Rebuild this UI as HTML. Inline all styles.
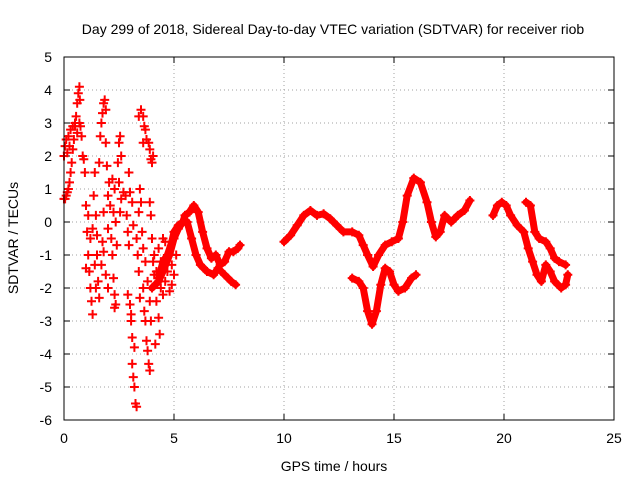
<!DOCTYPE html>
<html><head><meta charset="utf-8"><style>
body{margin:0;background:#fff}
svg{display:block;font-family:"Liberation Sans",sans-serif;font-size:13px}
</style></head><body>
<svg id="chart" width="640" height="480" viewBox="0 0 640 480">
<text x="333" y="34" text-anchor="middle" font-size="14">Day 299 of 2018, Sidereal Day-to-day VTEC variation (SDTVAR) for receiver riob</text>
<text x="334" y="471" text-anchor="middle" font-size="14">GPS time / hours</text>
<text transform="translate(18,238) rotate(-90)" text-anchor="middle" font-size="14">SDTVAR / TECUs</text>
<g id="grid"></g>
<g id="ticks"></g>
<g id="series"></g>
<rect x="64" y="57" width="550" height="363" fill="none" stroke="#000" stroke-width="1"/>
</svg>
<script>
const xTicks=[0,5,10,15,20,25];
const yTicks=[5,4,3,2,1,0,-1,-2,-3,-4,-5,-6];
const scatter=[[0,0.7],[0.05,0.7],[0.1,0.8],[0.15,0.9],[0.2,1.0],[0.25,1.2],[0.3,1.5],[0.35,1.8],[0.4,2.2],[0.45,2.5],[0.5,2.9],[0.55,3.2],[0.6,3.6],[0.65,3.9],[0.7,4.1],[0.72,3.7],
[0,2.0],[0.05,2.3],[0.1,2.5],[0.15,2.1],[0.2,2.6],[0.25,2.3],[0.3,2.8],[0.4,2.9],[0.5,3.0],[0.6,2.7],[0.7,3.0],[0.75,2.9],[0.8,2.6],[0.85,2.0],
[0.9,1.9],[0.95,1.5],[1.0,0.5],[1.05,-0.3],[1.1,-1.0],[1.15,-1.5],[1.2,-2.0],[1.25,-2.4],[1.3,-2.8],[1.0,-1.4],[1.1,0.2],[1.2,-0.5],[1.3,-0.2],[1.35,0.8],[1.4,1.5],[1.45,0.2],[1.5,-1.0],[1.5,-0.4],[1.55,-1.8],[1.6,-2.3],
[1.4,-1.3],[1.45,-2.0],[1.6,1.8],[1.65,2.6],[1.7,3.0],[1.75,3.3],[1.8,3.6],[1.85,3.7],[1.9,3.4],[1.9,2.4],[1.95,1.7],[2.0,0.8],[2.0,-0.2],[1.8,0.3],[1.75,-0.6],[1.7,-1.3],[1.8,-0.9],[1.9,-1.6],[2.0,-2.0],
[2.05,1.2],[2.1,0.5],[2.15,-0.5],[2.2,-1.0],[2.25,-1.7],[2.3,-2.2],[2.35,-2.5],[2.3,-2.6],[2.2,1.3],[2.25,0.3],[2.3,1.0],[2.35,0.0],[2.4,-0.7],[2.45,1.8],[2.5,1.2],[2.55,0.3],
[2.5,2.4],[2.55,2.6],[2.6,2.0],[2.6,0.7],[2.7,0.9],[2.8,0.8],[2.85,0.2],[2.9,-0.3],[2.95,-0.7],[2.95,1.5],[3.0,0.9],[3.1,0.6],[3.15,-0.1],
[2.9,-2.2],[3.0,-2.5],[3.05,-3.0],[3.1,-3.5],[3.1,-4.3],[3.15,-4.7],[3.2,-5.0],[3.25,-5.5],[3.3,-5.6],[3.2,-3.8],[3.05,-2.8],
[3.3,-0.5],[3.35,-1.0],[3.4,-1.5],[3.45,-2.3],[3.4,0.3],[3.45,1.0],[3.5,0.6],[3.55,-0.3],[3.6,-0.8],[3.6,-2.0],[3.65,-2.7],[3.7,-3.0],[3.75,-3.6],[3.8,-3.9],[3.85,-4.3],[3.9,-4.5],[3.7,-1.2],[3.8,-1.8],[3.9,-2.4],[3.95,-3.0],
[3.4,3.2],[3.5,3.4],[3.6,3.2],[3.7,2.8],[3.75,2.5],[3.6,2.4],[3.65,2.9],[3.85,2.4],[3.9,2.2],[3.95,1.9],[4.0,1.8],[4.05,2.0],
[3.9,0.6],[3.95,0.2],[4.0,-0.5],[4.05,-1.2],[4.1,-1.6],[4.2,-2.4],[4.3,-2.9],[4.35,-3.4],[4.15,-3.7],
[4.1,-1.0],[4.2,-1.5],[4.3,-0.8],[4.4,-1.2],[4.4,-2.0],[4.5,-2.2],[4.6,-1.8],[4.6,-0.6],[4.7,-1.5],[4.8,-2.1],[4.9,-1.3],[4.9,-1.9],[5.0,-1.6],[5.1,-1.0],[4.5,-0.5]];
const s3=[[4.3,-1.7],[4.5,-1.2],[4.7,-1.0],[4.9,-0.6],[5.0,-0.3],[5.2,-0.1],[5.4,0.0],[5.5,0.2],[5.7,0.3],[5.9,0.5],[6.1,0.3],[6.3,-0.3],[6.5,-0.8],[6.7,-1.1],[6.9,-1.0],[7.1,-1.3],[7.3,-1.2],[7.5,-0.9],[7.7,-0.9],[7.9,-0.8],[8.0,-0.7]];
const s4=[[4.0,-2.0],[4.3,-1.8],[4.5,-1.5],[4.8,-1.0],[5.0,-0.5],[5.2,-0.2],[5.4,0.0],[5.6,0.0],[5.8,-0.5],[6.0,-1.0],[6.2,-1.3],[6.5,-1.5],[6.8,-1.6],[7.0,-1.4],[7.3,-1.6],[7.6,-1.8],[7.8,-1.9]];
const s5=[[10,-0.6],[10.3,-0.4],[10.6,-0.1],[10.9,0.2],[11.2,0.35],[11.5,0.2],[11.8,0.25],[12.1,0.1],[12.4,-0.1],[12.7,-0.3],[13.1,-0.3],[13.4,-0.4],[13.6,-0.7],[13.8,-1.0],[14.05,-1.35],[14.3,-1.0],[14.6,-0.7],[14.9,-0.6],[15.2,-0.5],[15.4,0.0],[15.6,0.8],[15.9,1.33],[16.2,1.2],[16.5,0.6],[16.7,0.0],[16.9,-0.45],[17.1,-0.3],[17.3,0.2],[17.6,0.0],[17.9,0.2],[18.2,0.35],[18.45,0.65]];
const s6=[[13.1,-1.7],[13.4,-1.8],[13.6,-2.0],[13.8,-2.7],[14.0,-3.1],[14.2,-2.7],[14.4,-1.9],[14.6,-1.4],[14.8,-1.5],[15.0,-1.9],[15.2,-2.1],[15.5,-2.0],[15.8,-1.7],[16.0,-1.6]];
const s7=[[19.5,0.2],[19.7,0.5],[19.9,0.6],[20.1,0.5],[20.3,0.2],[20.6,-0.1],[20.9,-0.3],[21.1,-0.8],[21.3,-1.2],[21.5,-1.6],[21.7,-1.8],[21.9,-1.3],[22.1,-1.5],[22.3,-1.8],[22.6,-2.0],[22.8,-1.9],[22.9,-1.6]];
const s8=[[21.0,0.6],[21.2,0.5],[21.4,-0.3],[21.6,-0.5],[21.9,-0.6],[22.1,-0.8],[22.3,-1.1],[22.5,-1.2],[22.8,-1.3]];
const lineSeries=[s3,s4,s5,s6,s7,s8];

const NS="http://www.w3.org/2000/svg";
const X0=64,X1=614,Y0=420,Y1=57,xmin=0,xmax=25,ymin=-6,ymax=5;
function xs(v){return X0+(v-xmin)/(xmax-xmin)*(X1-X0);}
function ys(v){return Y0-(v-ymin)/(ymax-ymin)*(Y0-Y1);}
function mk(tag,attrs,parent){const e=document.createElementNS(NS,tag);for(const k in attrs)e.setAttribute(k,attrs[k]);parent.appendChild(e);return e;}
const grid=document.getElementById('grid'),ticks=document.getElementById('ticks'),ser=document.getElementById('series');
xTicks.forEach(t=>{
  const x=xs(t);
  if(t>xmin&&t<xmax){const g=mk('line',{x1:x,x2:x,y1:Y1,y2:Y0,stroke:'#a0a0a0','stroke-dasharray':'1,3'},grid);
  
  }
  mk('line',{x1:x,x2:x,y1:Y0,y2:Y0-6,stroke:'#000'},ticks);
  mk('line',{x1:x,x2:x,y1:Y1,y2:Y1+6,stroke:'#000'},ticks);
  const l=mk('text',{x:x,y:443,'text-anchor':'middle','font-size':14},ticks);l.textContent=t;
  
  
});
yTicks.forEach(t=>{
  const y=ys(t);
  if(t>ymin&&t<ymax){const g=mk('line',{x1:X0,x2:X1,y1:y,y2:y,stroke:'#a0a0a0','stroke-dasharray':'1,3'},grid);
  
  }
  mk('line',{x1:X0,x2:X0+6,y1:y,y2:y,stroke:'#000'},ticks);
  mk('line',{x1:X1,x2:X1-6,y1:y,y2:y,stroke:'#000'},ticks);
  const l=mk('text',{x:52,y:y+5,'text-anchor':'end','font-size':14},ticks);l.textContent=t;
  
  
});
function plus(p){
  const x=xs(p[0]),y=ys(p[1]);
  const m=mk('path',{d:`M${x-4.5},${y}H${x+4.5}M${x},${y-4.5}V${y+4.5}`,stroke:'#f00','stroke-width':2},ser);
  
  
}
lineSeries.forEach((s,i)=>{
  const pl=mk('polyline',{points:s.map(p=>xs(p[0])+','+ys(p[1])).join(' '),fill:'none',stroke:'#f00','stroke-width':7,'stroke-linejoin':'round','stroke-linecap':'round'},ser);
  
  
  s.forEach(plus);
});
scatter.forEach(plus);
</script>
</body></html>
